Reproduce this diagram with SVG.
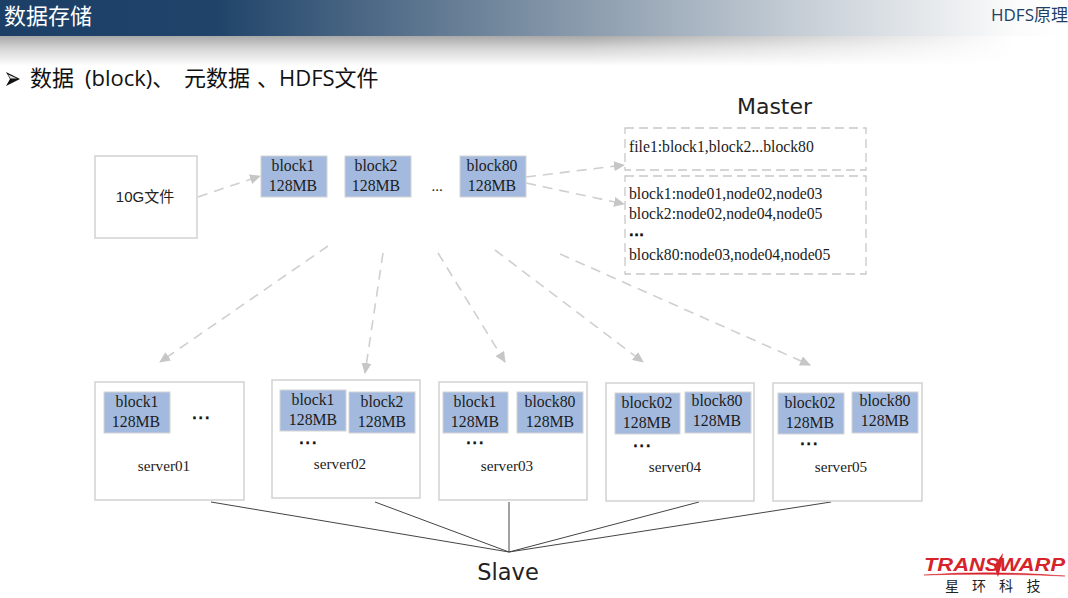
<svg xmlns="http://www.w3.org/2000/svg" width="1068" height="598" viewBox="0 0 1068 598">
<style>
.s{font-family:"Liberation Serif","Noto Sans CJK SC",serif;fill:#1c1c1c}
.b{font-size:15.8px;text-anchor:middle}
.m{font-size:15.7px}
.sv{font-size:15.2px;text-anchor:middle}
.d{font-family:"Liberation Sans",sans-serif;font-size:14px;letter-spacing:2.5px;font-weight:bold;fill:#111;stroke:#111;stroke-width:.5;text-anchor:middle}
.u{font-family:"Open Sans","Noto Sans CJK SC",sans-serif}
.c{font-family:"Noto Sans CJK SC",sans-serif;font-size:14px;fill:#222}
.blk{fill:#a3bade;stroke:#d4d4d4;stroke-width:1}
.box{fill:#fff;stroke:#d2d2d2;stroke-width:1.5}
.dash{fill:#fff;stroke:#c8c8c8;stroke-width:1.3;stroke-dasharray:9 5}
.a{stroke:#cfcfcf;stroke-width:1.6;stroke-dasharray:10 7;fill:none;marker-end:url(#ah)}
.l{stroke:#444;stroke-width:1;fill:none}
</style>
<defs>
<marker id="ah" markerUnits="userSpaceOnUse" markerWidth="11" markerHeight="10" refX="10" refY="5" orient="auto"><path d="M0 0L11 5L0 10Z" fill="#c6c6c6"/></marker>
<linearGradient id="hg" x1="0" x2="1" y1="0" y2="0"><stop offset="0" stop-color="#1c3f67"/><stop offset=".2" stop-color="#1f4369"/><stop offset=".5" stop-color="#7d90a4"/><stop offset=".75" stop-color="#c6ced6"/><stop offset=".95" stop-color="#fbfbfb"/><stop offset="1" stop-color="#fff"/></linearGradient>
<linearGradient id="sg" x1="0" x2="0" y1="0" y2="1"><stop offset="0" stop-color="#a8a8a8"/><stop offset=".4" stop-color="#d4d4d4"/><stop offset="1" stop-color="#fff"/></linearGradient>
<linearGradient id="fade" x1="0" x2="1" y1="0" y2="0"><stop offset=".55" stop-color="#fff" stop-opacity="0"/><stop offset=".95" stop-color="#fff"/></linearGradient>
</defs>
<rect width="1068" height="598" fill="#fff"/>
<g id="header">
<rect x="0" y="36" width="1068" height="30" fill="url(#sg)"/>
<rect x="0" y="36" width="1068" height="30" fill="url(#fade)"/>
<rect x="0" y="0" width="1068" height="36" fill="url(#hg)"/>
<text class="u" x="4" y="24" font-size="22" fill="#fff">数据存储</text>
<text class="u" x="991" y="21" font-size="17" fill="#1f3f66">HDFS原理</text>
</g>
<g id="title">
<path d="M6 72L20 79L6 86L10 79Z" fill="#111"/><path d="M8 74.5L17 78.6L10.5 78.6Z" fill="#ddd"/>
<text class="u" y="86" font-size="22" fill="#111"><tspan x="30">数据</tspan><tspan x="85">(block)、</tspan><tspan x="184">元数据</tspan><tspan x="257">、HDFS文件</tspan></text>
</g>
<g id="connectors">
<line class="a" x1="198" y1="197" x2="260" y2="176"/>
<line class="a" x1="526" y1="177" x2="624" y2="165"/>
<line class="a" x1="526" y1="183" x2="624" y2="204"/>
<line class="a" x1="328" y1="246" x2="160" y2="362"/>
<line class="a" x1="383" y1="253" x2="365" y2="373"/>
<line class="a" x1="438" y1="253" x2="505" y2="362"/>
<line class="a" x1="495" y1="250" x2="643" y2="362"/>
<line class="a" x1="560" y1="254" x2="810" y2="365"/>
<line class="l" x1="211" y1="502" x2="509" y2="552"/>
<line class="l" x1="375" y1="502" x2="509" y2="552"/>
<line class="l" x1="509" y1="502" x2="509" y2="552"/>
<line class="l" x1="699" y1="502" x2="509" y2="552"/>
<line class="l" x1="831" y1="502" x2="509" y2="552"/>
</g>
<g id="file"><rect class="box" x="95" y="156" width="102" height="82"/><text x="145" y="202" text-anchor="middle" font-size="15" font-family="'Liberation Sans','Noto Sans CJK SC',sans-serif" fill="#222">10G文件</text></g>
<g id="block1"><rect class="blk" x="261" y="156" width="66" height="41"/><text class="s b" x="293" y="171">block1</text><text class="s b" x="293" y="191">128MB</text></g>
<g id="block2"><rect class="blk" x="345" y="156" width="66" height="41"/><text class="s b" x="376" y="171">block2</text><text class="s b" x="376" y="191">128MB</text></g>
<text class="s" x="437" y="191" font-size="15" text-anchor="middle">...</text>
<g id="block80"><rect class="blk" x="460" y="156" width="66" height="41"/><text class="s b" x="492" y="171">block80</text><text class="s b" x="492" y="191">128MB</text></g>
<text id="master" x="774.5" y="114" font-family="'DejaVu Sans',sans-serif" font-size="22" fill="#222" text-anchor="middle">Master</text>
<g id="meta1"><rect class="dash" x="625" y="128" width="241" height="42"/><text class="s m" x="629" y="152">file1:block1,block2...block80</text></g>
<g id="meta2"><rect class="dash" x="625" y="176" width="241" height="98"/>
<text class="s m" x="629" y="199">block1:node01,node02,node03</text>
<text class="s m" x="629" y="219">block2:node02,node04,node05</text>
<text class="d" x="637" y="236" style="letter-spacing:1px;font-size:15px">...</text>
<text class="s m" x="629" y="260">block80:node03,node04,node05</text></g>
<g id="server01"><rect class="box" x="95" y="382" width="149" height="118"/>
<rect class="blk" x="104" y="392" width="66" height="41"/><text class="s b" x="137" y="407">block1</text><text class="s b" x="136" y="427">128MB</text>
<text class="d" x="202" y="418.5">...</text><text class="s sv" x="164" y="471">server01</text></g>
<g id="server02"><rect class="box" x="272" y="380" width="148" height="118"/>
<rect class="blk" x="280" y="390" width="66" height="41"/><text class="s b" x="313" y="405">block1</text><text class="s b" x="313" y="425">128MB</text>
<rect class="blk" x="349" y="392" width="66" height="41"/><text class="s b" x="382" y="407">block2</text><text class="s b" x="382" y="427">128MB</text>
<text class="d" x="309" y="443.5">...</text><text class="s sv" x="340" y="469">server02</text></g>
<g id="server03"><rect class="box" x="439" y="382" width="148" height="118"/>
<rect class="blk" x="443" y="392" width="65" height="41"/><text class="s b" x="475" y="407">block1</text><text class="s b" x="475" y="427">128MB</text>
<rect class="blk" x="517" y="392" width="66" height="41"/><text class="s b" x="550" y="407">block80</text><text class="s b" x="550" y="427">128MB</text>
<text class="d" x="476" y="443.5">...</text><text class="s sv" x="507" y="471">server03</text></g>
<g id="server04"><rect class="box" x="606" y="383" width="148" height="118"/>
<rect class="blk" x="615" y="393" width="65" height="41"/><text class="s b" x="647" y="408">block02</text><text class="s b" x="647" y="428">128MB</text>
<rect class="blk" x="685" y="392" width="66" height="41"/><text class="s b" x="717" y="406">block80</text><text class="s b" x="717" y="426">128MB</text>
<text class="d" x="643" y="446.5">...</text><text class="s sv" x="675" y="472">server04</text></g>
<g id="server05"><rect class="box" x="773" y="383" width="149" height="118"/>
<rect class="blk" x="778" y="393" width="66" height="41"/><text class="s b" x="810" y="408">block02</text><text class="s b" x="810" y="428">128MB</text>
<rect class="blk" x="852" y="392" width="66" height="41"/><text class="s b" x="885" y="406">block80</text><text class="s b" x="885" y="426">128MB</text>
<text class="d" x="810" y="444.5">...</text><text class="s sv" x="841" y="472">server05</text></g>
<text id="slave" x="508" y="580" font-family="'DejaVu Sans',sans-serif" font-size="22.5" fill="#222" text-anchor="middle">Slave</text>
<g id="logo">
<text x="994.5" y="571" font-family="'Liberation Sans',sans-serif" font-size="18" font-weight="bold" font-style="italic" fill="#d8232a" text-anchor="middle" textLength="141" lengthAdjust="spacingAndGlyphs">TRANSWARP</text>
<path d="M924 575Q990 570 1065 576Q990 573 924 575Z" fill="#d8232a" stroke="#d8232a" stroke-width=".5"/>
<path d="M1003 553L1001 566L998 577L994 566Z" fill="#d8232a"/>
<text class="c" x="945" y="591">星</text>
<text class="c" x="972" y="591">环</text>
<text class="c" x="999" y="591">科</text>
<text class="c" x="1026.5" y="591">技</text>
</g>
</svg>
